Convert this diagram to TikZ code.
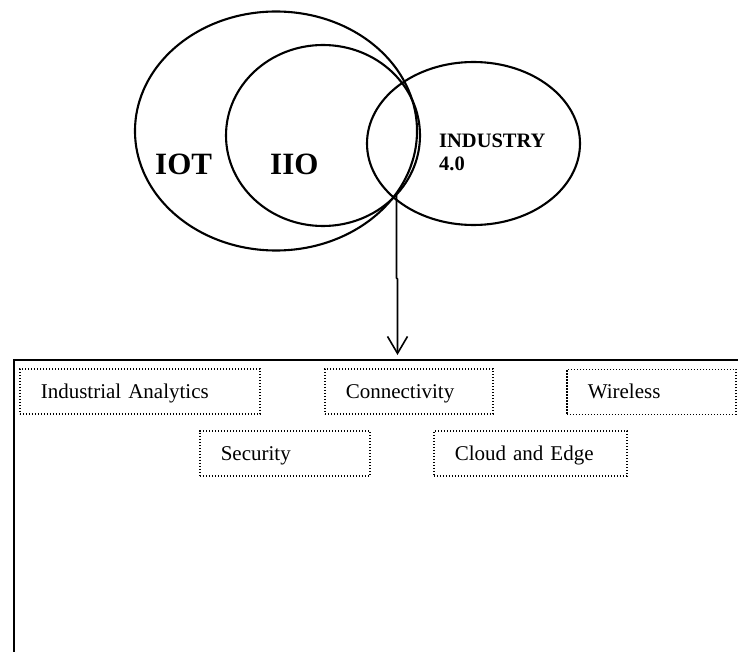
\documentclass[tikz,border=0pt]{standalone}
\usepackage{fontspec}
\setmainfont{Liberation Serif}
\usetikzlibrary{shapes.geometric,arrows.meta}
\begin{document}
\begin{tikzpicture}[x=1pt,y=-1pt,
  ell/.style={draw, ellipse, line width=2.1pt, inner sep=0pt, outer sep=0pt},
  biglab/.style={font=\bfseries\fontsize{31}{36}\selectfont, anchor=base west, inner sep=0pt},
  smalllab/.style={font=\bfseries\fontsize{20.5}{24}\selectfont, anchor=base west, inner sep=0pt},
  dbox/.style={draw, line width=1.6pt, dash pattern=on 1.3pt off 1.7pt, anchor=north west, inner xsep=21pt, inner ysep=0pt,
    minimum height=45pt, text height=14pt, text depth=0pt, align=left, font=\fontsize{21}{25}\selectfont},
  panelbox/.style={draw, line width=2.4pt, anchor=north west, minimum width=800pt, minimum height=400pt, inner sep=0pt},
  conn/.style={line width=1.6pt, -{Straight Barb[length=17pt,width=20pt,line width=1.6pt]}}
]
\clip (0,0) rectangle (738,652);
% Venn ellipses
\node[ell, minimum width=282pt, minimum height=239pt] (iot) at (276,131) {};
\node[ell, minimum width=194pt, minimum height=181pt] (iio) at (323,135.5) {};
\node[ell, minimum width=213pt, minimum height=163pt] (ind) at (473.5,143.5) {};
% labels
\node[biglab] (iotlab) at (155,175) {IOT};
\node[biglab] (iiolab) at (270,175) {IIO};
\node[smalllab] (indlab1) at (439,148) {INDUSTRY};
\node[smalllab] (indlab2) at (439,170.5) {4.0};
% panel
\node[panelbox] (panel) at (12.7,359) {};
% dotted boxes
\node[dbox, text width=198pt] (ia) at (19,368) {Industrial Analytics};
\node[dbox, text width=126pt] (con) at (324,368) {Connectivity};
\node[dbox, text width=127pt] (wir) at (566,368.5) {Wireless};
\node[dbox, text width=128pt] (sec) at (199,430) {Security};
\node[dbox, text width=151pt] (cld) at (433,430) {Cloud and Edge};
% arrow
\coordinate (src) at (396.5,195);
\coordinate (jogA) at (396.5,278);
\coordinate (jogB) at (397.5,279);
\coordinate (tip) at (397.5,355);
\draw[conn] (src) -- (jogA) -- (jogB) -- (tip);
\end{tikzpicture}
\end{document}
